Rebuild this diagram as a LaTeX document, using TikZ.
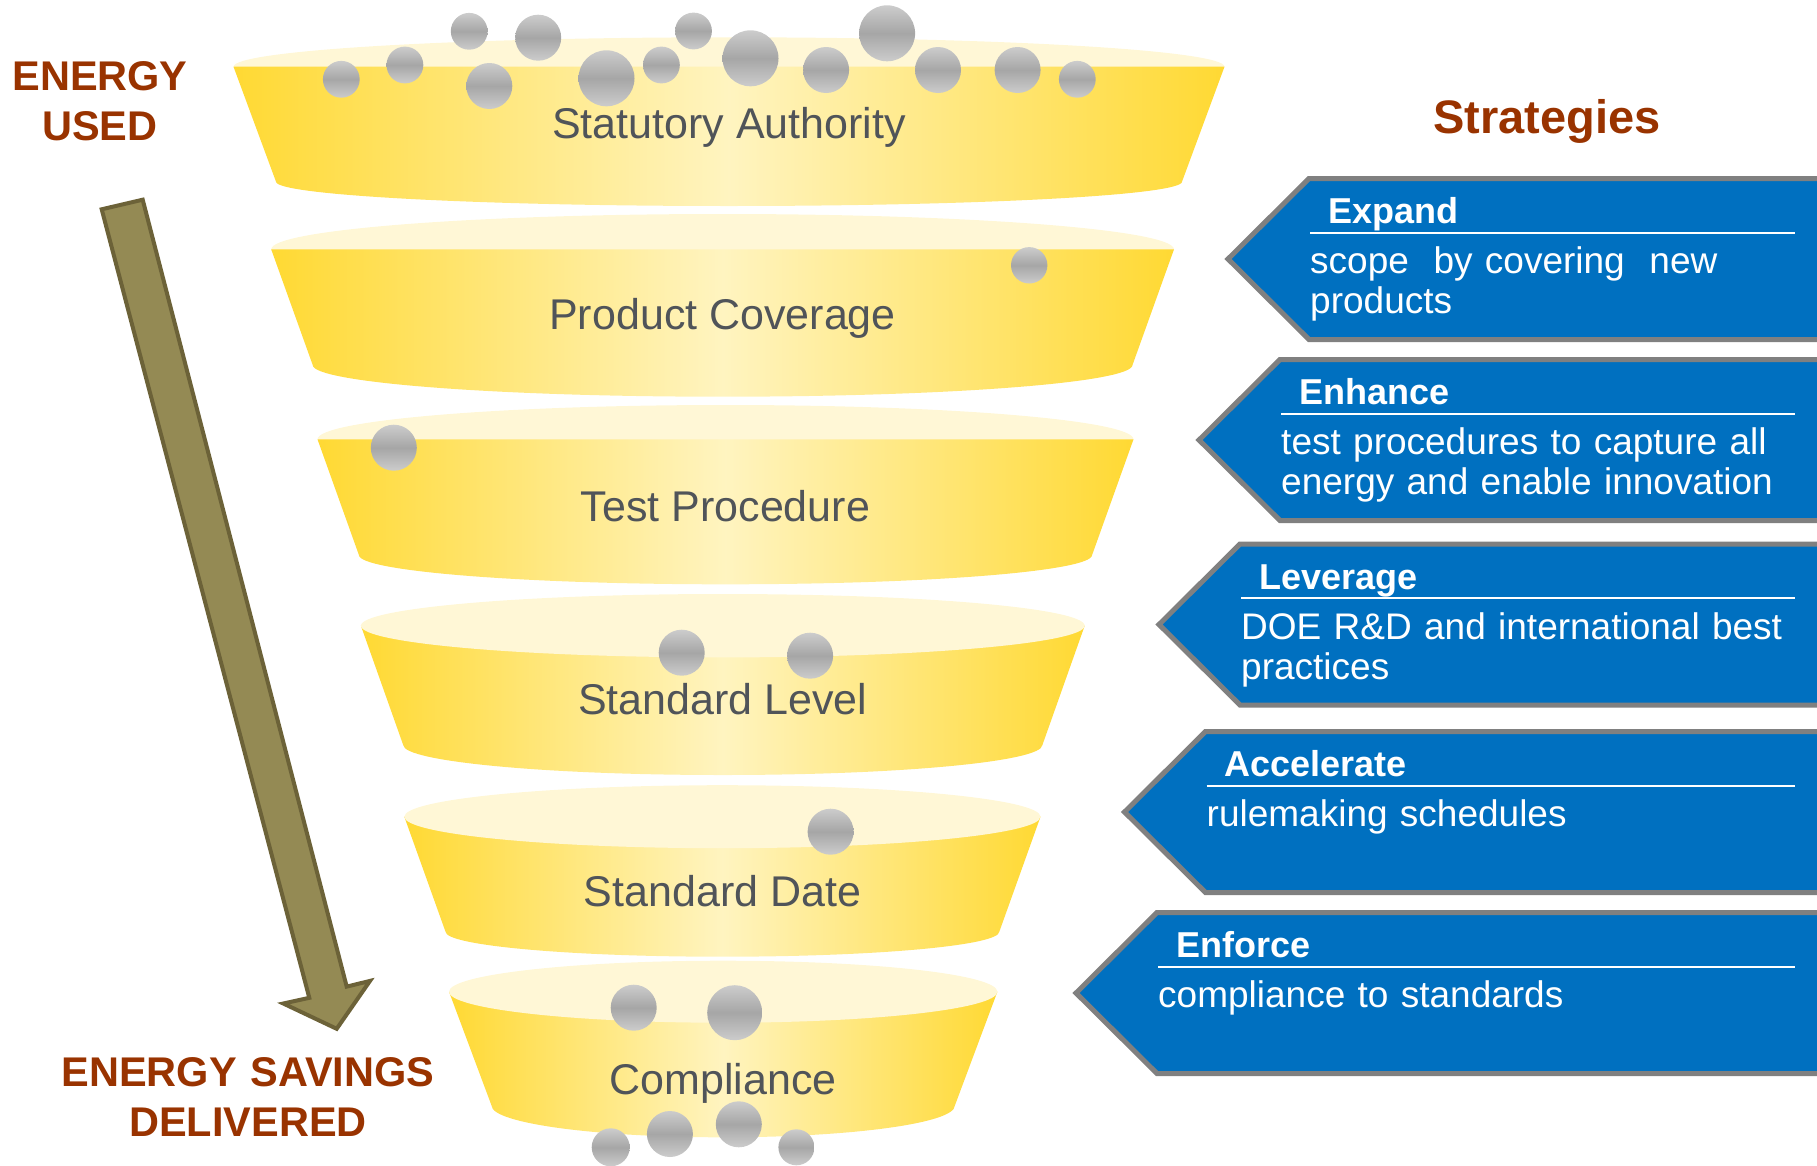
\documentclass[tikz,border=0pt]{standalone}
\usepackage{fontspec}
\setmainfont{Liberation Sans}

\definecolor{bowlEdge}{RGB}{255,217,51}
\definecolor{bowlMid}{RGB}{255,244,192}
\definecolor{bowlTop}{RGB}{255,247,214}
\definecolor{bowlText}{RGB}{80,84,89}
\definecolor{ballLight}{RGB}{204,204,204}
\definecolor{ballDark}{RGB}{166,166,166}
\definecolor{stratBlue}{RGB}{0,112,192}
\definecolor{stratGray}{RGB}{128,128,128}
\definecolor{energyRed}{RGB}{153,51,0}
\definecolor{arrowFill}{RGB}{148,138,84}
\definecolor{arrowLine}{RGB}{108,98,56}

\tikzset{
  bowltop/.style={fill=bowlTop},
  bowlbody/.style={left color=bowlEdge, right color=bowlEdge, middle color=bowlMid},
  bowltext/.style={font=\fontsize{43}{48}\selectfont, text=bowlText, anchor=base, inner sep=0pt},
  ball/.style={top color=ballLight, bottom color=ballLight, middle color=ballDark},
  strategy/.style={fill=stratBlue, draw=stratGray, line width=5pt, line join=miter},
  strathead/.style={font=\bfseries\fontsize{36}{40}\selectfont, text=white, anchor=base west, inner sep=0pt},
  stratbody/.style={font=\fontsize{37}{40}\selectfont, text=white, anchor=base west, inner sep=0pt,
    text width=570pt, align=left},
  energy/.style={font=\bfseries\fontsize{41.5}{50}\selectfont, text=energyRed, anchor=base, inner sep=0pt,
    text width=400pt, align=center},
  bigarrow/.style={fill=arrowFill, draw=arrowLine, line width=4pt, line join=miter}
}

% [front rim] centre x, rim y, rim half width, rim y radius, bottom y, bottom half width, bottom y radius
\newcommand{\bowl}[8][0]{
  \ifnum#1=0 \fill[bowltop] (#2,#3) ellipse[x radius=#4, y radius=#5]; \fi
  \path[bowlbody] ({#2-#4},#3) -- ({#2+#4},#3) -- ({#2+#7},#6)
    arc[start angle=0, end angle=180, x radius=#7, y radius=#8] -- cycle;
  \ifnum#1=1 \fill[bowltop] (#2,#3) ellipse[x radius=#4, y radius=#5]; \fi
}

% tip x, top y, name, title, text
\newcommand{\strategybox}[5]{
  \draw[strategy] (1830,#2) -- ({#1+81},#2) -- (#1,{#2+80.5}) -- ({#1+81},{#2+161}) -- (1830,{#2+161});
  \node[strathead] (#3-head) at ({#1+100},{#2+45}) {#4};
  \draw[white, line width=2pt] ({#1+82},{#2+54}) -- (1795,{#2+54});
  \node[stratbody] (#3-text) at ({#1+82},{#2+95}) {#5};
}

\begin{document}
\begin{tikzpicture}[x=1pt, y=-1pt]
    \useasboundingbox (0,0) rectangle (1817,1165);
    \clip (0,0) rectangle (1817,1165);

    % funnel
    \bowl{729}{66.7}{495.5}{29.4}{181.7}{453}{24.3}
    \bowl{722.6}{249.3}{451.4}{35.3}{365}{409.9}{31.7}
    \bowl{725.5}{439.3}{408}{34.3}{555}{366.6}{29.3}
    \bowl[1]{722.8}{625.7}{361.9}{31.7}{745}{319.6}{30}
    \bowl[1]{722.4}{816.7}{318.1}{31.5}{931.7}{276.9}{25}
    \bowl[1]{723.2}{991.7}{274.2}{31}{1105.7}{231.6}{31.6}

    \node[bowltext] (statutory) at (729,138.3) {Statutory Authority};
    \node[bowltext] (coverage) at (722.6,329.3) {Product Coverage};
    \node[bowltext] (testproc) at (725.5,521) {Test Procedure};
    \node[bowltext] (stdlevel) at (722.8,714.3) {Standard Level};
    \node[bowltext] (stddate) at (722.4,906) {Standard Date};
    \node[bowltext] (compliance) at (723.2,1094) {Compliance};

    % balls
    \path[ball] (341.3,79.3) circle[radius=18.4];
    \path[ball] (404.9,65) circle[radius=18.4];
    \path[ball] (469.2,31.3) circle[radius=18.4];
    \path[ball] (489.3,86) circle[radius=23];
    \path[ball] (538.2,37.7) circle[radius=23];
    \path[ball] (606.5,78.3) circle[radius=28];
    \path[ball] (661.4,65) circle[radius=18.4];
    \path[ball] (693.5,31) circle[radius=18.4];
    \path[ball] (750.5,58.3) circle[radius=28];
    \path[ball] (826.1,70) circle[radius=23];
    \path[ball] (887.1,33.3) circle[radius=28];
    \path[ball] (938,70) circle[radius=23];
    \path[ball] (1017.6,70) circle[radius=23];
    \path[ball] (1077.3,79.3) circle[radius=18.4];
    \path[ball] (1029.2,265.3) circle[radius=18.2];
    \path[ball] (393.8,447.7) circle[radius=23];
    \path[ball] (681.7,652.7) circle[radius=23];
    \path[ball] (810.1,655.7) circle[radius=23];
    \path[ball] (830.6,831.7) circle[radius=23];
    \path[ball] (633.7,1007.7) circle[radius=23];
    \path[ball] (734.7,1012.7) circle[radius=27.5];
    \path[ball] (669.9,1134) circle[radius=23];
    \path[ball] (738.8,1124.3) circle[radius=23];
    \path[ball] (610.7,1147.3) circle[radius=19];
    \path[ball] (796.4,1147.3) circle[radius=18];

    % energy arrow
    \node[energy] (used) at (100,90.7) {ENERGY\\USED};
    \node[energy] (savings) at (248,1086) {ENERGY SAVINGS\\DELIVERED};
    \draw[bigarrow] (101.7,209.3) -- (142.7,199.7) -- (346.7,986.6) -- (370,980.9)
      -- (336.7,1028.8) -- (283.3,1003.5) -- (309.3,997.8) -- cycle;

    % strategies
    \node[font=\bfseries\fontsize{47}{52}\selectfont, text=energyRed, anchor=base, inner sep=0pt]
      (strategies) at (1547,133) {Strategies};
    \strategybox{1228}{178.5}{expand}{Expand}{scope\ \ by covering\ \ new\\products}
    \strategybox{1199}{359.5}{enhance}{Enhance}{test procedures to capture all\\energy and enable innovation}
    \strategybox{1159}{544}{leverage}{Leverage}{DOE R\&D and international best\\practices}
    \strategybox{1124.5}{731.5}{accelerate}{Accelerate}{rulemaking schedules}
    \strategybox{1076}{912.5}{enforce}{Enforce}{compliance to standards}
\end{tikzpicture}
\end{document}
